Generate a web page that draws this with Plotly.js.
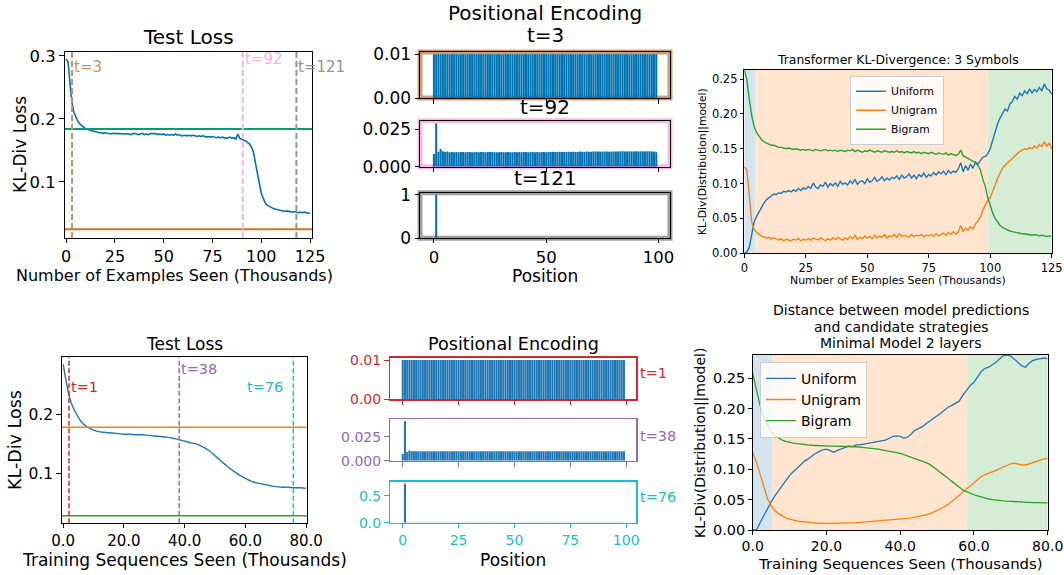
<!DOCTYPE html>
<html>
<head>
<meta charset="utf-8">
<script src="https://cdn.plot.ly/plotly-3.0.1.min.js"></script>
<style>html,body{margin:0;padding:0;background:#fff;}#chart{width:1064px;height:575px;}</style>
</head>
<body>
<div id="chart"></div>
<script>
// ---------------- DATA ----------------
// Panel A: test loss (examples seen, thousands)
const lossA_x = [0,1,2,3,4,5,6,7,8,9,10,11,12,13,14,15,16,17,18,19,20,21,22,23,24,25,26,27,28,29,30,31,32,33,34,35,36,37,38,39,40,41,42,43,44,45,46,47,48,49,50,51,52,53,54,55,56,57,58,59,60,61,62,63,64,65,66,67,68,69,70,71,72,73,74,75,76,77,78,79,80,81,82,83,84,85,86,87,88,89,90,91,92,93,94,95,96,97,98,99,100,101,102,103,104,105,106,107,108,109,110,111,112,113,114,115,116,117,118,119,120,121,122,123,124,125];
const lossA = [0.295,0.290,0.255,0.225,0.210,0.202,0.196,0.192,0.189,0.186,0.184,0.183,0.182,0.181,0.180,0.179,0.179,0.178,0.178,0.177,0.178,0.177,0.177,0.176,0.177,0.177,0.176,0.177,0.176,0.177,0.176,0.177,0.176,0.175,0.176,0.177,0.176,0.175,0.176,0.177,0.175,0.176,0.175,0.176,0.177,0.176,0.177,0.175,0.176,0.175,0.176,0.174,0.175,0.174,0.175,0.174,0.176,0.174,0.175,0.173,0.174,0.174,0.173,0.174,0.173,0.174,0.173,0.172,0.173,0.172,0.173,0.172,0.171,0.172,0.171,0.172,0.171,0.170,0.171,0.170,0.171,0.170,0.169,0.170,0.171,0.169,0.170,0.168,0.176,0.169,0.167,0.166,0.165,0.163,0.160,0.155,0.147,0.130,0.112,0.094,0.082,0.074,0.067,0.063,0.061,0.059,0.058,0.057,0.056,0.055,0.055,0.054,0.053,0.054,0.053,0.052,0.052,0.053,0.052,0.051,0.052,0.051,0.052,0.051,0.050,0.050];
const baselineA = [0.184, 0.025];           // green, orange reference lines
const snapA_t = [3, 90.5, 118];             // positions of snapshot lines
const snapA_lbl = ['t=3', 't=92', 't=121'];

// Panel B: positional encoding snapshots (positions 0..99)
const encA_t3 = [
0.010,0.010,0.010,0.010,0.010,0.010,0.010,0.010,0.010,0.010,
0.010,0.010,0.010,0.010,0.010,0.010,0.010,0.010,0.010,0.010,
0.010,0.010,0.010,0.010,0.010,0.010,0.010,0.010,0.010,0.010,
0.010,0.010,0.010,0.010,0.010,0.010,0.010,0.010,0.010,0.010,
0.010,0.010,0.010,0.010,0.010,0.010,0.010,0.010,0.010,0.010,
0.010,0.010,0.010,0.010,0.010,0.010,0.010,0.010,0.010,0.010,
0.010,0.010,0.010,0.010,0.010,0.010,0.010,0.010,0.010,0.010,
0.010,0.010,0.010,0.010,0.010,0.010,0.010,0.010,0.010,0.010,
0.010,0.010,0.010,0.010,0.010,0.010,0.010,0.010,0.010,0.010,
0.010,0.010,0.010,0.010,0.010,0.010,0.010,0.010,0.010,0.010];
const encA_t92 = [
0.0085,0.0290,0.0100,0.0118,0.0103,0.0098,0.0101,0.0097,0.0099,0.0096,
0.0098,0.0097,0.0099,0.0098,0.0097,0.0098,0.0099,0.0096,0.0097,0.0098,
0.0097,0.0098,0.0099,0.0097,0.0098,0.0099,0.0098,0.0097,0.0096,0.0097,
0.0098,0.0097,0.0097,0.0098,0.0097,0.0097,0.0098,0.0097,0.0098,0.0097,
0.0098,0.0098,0.0097,0.0098,0.0099,0.0097,0.0098,0.0097,0.0099,0.0098,
0.0097,0.0099,0.0098,0.0100,0.0099,0.0098,0.0100,0.0099,0.0098,0.0099,
0.0100,0.0099,0.0100,0.0098,0.0099,0.0101,0.0100,0.0099,0.0101,0.0100,
0.0100,0.0102,0.0101,0.0102,0.0101,0.0100,0.0102,0.0101,0.0100,0.0101,
0.0102,0.0101,0.0102,0.0103,0.0104,0.0102,0.0101,0.0103,0.0102,0.0101,
0.0103,0.0102,0.0104,0.0103,0.0102,0.0103,0.0104,0.0102,0.0101,0.0097];
const encA_t121 = [
0,1.0,0,0,0,0,0,0,0,0,
0,0,0,0,0,0,0,0,0,0,
0,0,0,0,0,0,0,0,0,0,
0,0,0,0,0,0,0,0,0,0,
0,0,0,0,0,0,0,0,0,0,
0,0,0,0,0,0,0,0,0,0,
0,0,0,0,0,0,0,0,0,0,
0,0,0,0,0,0,0,0,0,0,
0,0,0,0,0,0,0,0,0,0,
0,0,0,0,0,0,0,0,0,0];

// Panel C: KL divergence, 3 symbols (examples seen, thousands)
const klA_x = lossA_x;
const klA_uniform = [0.000,0.002,0.008,0.025,0.045,0.053,0.060,0.066,0.072,0.077,0.080,0.082,0.085,0.084,0.087,0.086,0.089,0.088,0.090,0.088,0.091,0.089,0.093,0.090,0.094,0.092,0.096,0.093,0.101,0.095,0.093,0.098,0.096,0.102,0.095,0.100,0.097,0.101,0.096,0.103,0.099,0.101,0.098,0.104,0.100,0.106,0.099,0.103,0.104,0.100,0.107,0.102,0.104,0.109,0.103,0.106,0.110,0.104,0.108,0.105,0.109,0.107,0.111,0.106,0.112,0.108,0.110,0.114,0.108,0.112,0.107,0.113,0.110,0.115,0.109,0.113,0.111,0.116,0.112,0.117,0.114,0.118,0.113,0.119,0.115,0.118,0.116,0.121,0.130,0.117,0.126,0.119,0.128,0.122,0.131,0.128,0.134,0.138,0.139,0.143,0.150,0.163,0.176,0.186,0.194,0.201,0.207,0.204,0.214,0.218,0.225,0.221,0.230,0.226,0.233,0.229,0.236,0.230,0.235,0.232,0.238,0.233,0.243,0.236,0.234,0.228];
const klA_unigram = [0.124,0.120,0.085,0.045,0.034,0.030,0.027,0.025,0.024,0.022,0.023,0.021,0.022,0.020,0.019,0.021,0.018,0.020,0.019,0.018,0.020,0.019,0.021,0.018,0.020,0.019,0.021,0.019,0.022,0.020,0.019,0.022,0.020,0.018,0.021,0.019,0.022,0.020,0.023,0.021,0.019,0.022,0.020,0.024,0.021,0.026,0.020,0.023,0.021,0.025,0.022,0.024,0.021,0.026,0.022,0.025,0.023,0.027,0.022,0.025,0.024,0.027,0.023,0.028,0.024,0.026,0.025,0.023,0.027,0.024,0.026,0.025,0.027,0.024,0.026,0.025,0.027,0.024,0.028,0.025,0.027,0.029,0.026,0.030,0.027,0.031,0.028,0.030,0.040,0.031,0.036,0.033,0.038,0.035,0.042,0.048,0.052,0.062,0.070,0.076,0.080,0.088,0.098,0.108,0.115,0.122,0.126,0.130,0.133,0.136,0.140,0.143,0.146,0.148,0.150,0.149,0.152,0.150,0.154,0.151,0.156,0.153,0.160,0.154,0.158,0.150];
const klA_bigram = [0.263,0.250,0.222,0.198,0.182,0.173,0.168,0.163,0.160,0.158,0.156,0.155,0.155,0.153,0.152,0.152,0.151,0.150,0.151,0.150,0.149,0.150,0.149,0.148,0.149,0.148,0.149,0.148,0.147,0.149,0.148,0.147,0.148,0.149,0.147,0.148,0.147,0.148,0.146,0.148,0.147,0.146,0.148,0.147,0.149,0.146,0.148,0.147,0.145,0.147,0.146,0.148,0.146,0.145,0.147,0.146,0.145,0.147,0.146,0.145,0.146,0.145,0.147,0.145,0.146,0.144,0.146,0.145,0.144,0.146,0.144,0.145,0.143,0.145,0.144,0.143,0.145,0.143,0.142,0.144,0.143,0.142,0.144,0.141,0.143,0.141,0.140,0.142,0.148,0.140,0.138,0.136,0.135,0.132,0.130,0.126,0.120,0.106,0.096,0.080,0.068,0.058,0.050,0.044,0.040,0.037,0.035,0.033,0.032,0.031,0.030,0.029,0.029,0.028,0.028,0.027,0.027,0.026,0.027,0.026,0.025,0.026,0.025,0.024,0.025,0.024];
const phaseA = [0, 4.3, 99.2, 125];   // uniform | unigram | bigram phase boundaries

// Panel D: test loss, minimal model (training sequences, thousands)
const lossB_x = [0,1,2,3,4,5,6,8,10,12,14,16,18,20,22,24,26,28,30,32,34,36,38,40,42,44,46,48,50,52,54,56,58,60,62,64,66,68,70,72,74,76,78,80];
const lossB = [0.287,0.257,0.232,0.216,0.205,0.196,0.188,0.179,0.174,0.171,0.170,0.169,0.168,0.167,0.167,0.166,0.166,0.165,0.164,0.163,0.162,0.160,0.158,0.155,0.152,0.150,0.145,0.139,0.130,0.121,0.112,0.104,0.097,0.091,0.086,0.083,0.081,0.079,0.077,0.076,0.076,0.075,0.075,0.074];
const baselineB = [0.179, 0.027];   // orange, green reference lines
const snapB_t = [1.9, 38.2, 75.8];
const snapB_lbl = ['t=1', 't=38', 't=76'];

// Panel E: positional encoding snapshots, minimal model
const encB_t1 = encA_t3.slice();
const encB_t38 = [
0.0070,0.0410,0.0090,0.0105,0.0098,0.0098,0.0098,0.0098,0.0098,0.0098,
0.0098,0.0098,0.0098,0.0098,0.0098,0.0098,0.0098,0.0098,0.0098,0.0098,
0.0098,0.0098,0.0098,0.0098,0.0098,0.0098,0.0098,0.0098,0.0098,0.0098,
0.0098,0.0098,0.0098,0.0098,0.0098,0.0098,0.0098,0.0098,0.0098,0.0098,
0.0098,0.0098,0.0098,0.0098,0.0098,0.0098,0.0098,0.0098,0.0098,0.0098,
0.0098,0.0098,0.0098,0.0098,0.0098,0.0098,0.0098,0.0098,0.0098,0.0098,
0.0098,0.0098,0.0098,0.0098,0.0098,0.0098,0.0098,0.0098,0.0098,0.0098,
0.0098,0.0098,0.0098,0.0098,0.0098,0.0098,0.0098,0.0098,0.0098,0.0098,
0.0098,0.0098,0.0098,0.0098,0.0098,0.0098,0.0098,0.0098,0.0098,0.0098,
0.0098,0.0098,0.0098,0.0098,0.0098,0.0098,0.0098,0.0098,0.0098,0.0098];
const encB_t76 = [
0.0028,0.7250,0.0028,0.0028,0.0028,0.0028,0.0028,0.0028,0.0028,0.0028,
0.0028,0.0028,0.0028,0.0028,0.0028,0.0028,0.0028,0.0028,0.0028,0.0028,
0.0028,0.0028,0.0028,0.0028,0.0028,0.0028,0.0028,0.0028,0.0028,0.0028,
0.0028,0.0028,0.0028,0.0028,0.0028,0.0028,0.0028,0.0028,0.0028,0.0028,
0.0028,0.0028,0.0028,0.0028,0.0028,0.0028,0.0028,0.0028,0.0028,0.0028,
0.0028,0.0028,0.0028,0.0028,0.0028,0.0028,0.0028,0.0028,0.0028,0.0028,
0.0028,0.0028,0.0028,0.0028,0.0028,0.0028,0.0028,0.0028,0.0028,0.0028,
0.0028,0.0028,0.0028,0.0028,0.0028,0.0028,0.0028,0.0028,0.0028,0.0028,
0.0028,0.0028,0.0028,0.0028,0.0028,0.0028,0.0028,0.0028,0.0028,0.0028,
0.0028,0.0028,0.0028,0.0028,0.0028,0.0028,0.0028,0.0028,0.0028,0.0028];

// Panel F: distance to candidate strategies, minimal model 2 layers
const klB_x = [0,1,2,3,4,5,6,7,8,9,10,11,12,13,14,15,16,17,18,19,20,21,22,23,24,25,26,27,28,29,30,31,32,33,34,35,36,37,38,39,40,41,42,43,44,45,46,47,48,49,50,51,52,53,54,55,56,57,58,59,60,61,62,63,64,65,66,67,68,69,70,71,72,73,74,75,76,77,78,79,80];
const klB_uniform = [0.000,0.000,0.012,0.024,0.035,0.046,0.056,0.065,0.074,0.082,0.090,0.096,0.102,0.108,0.113,0.117,0.122,0.126,0.129,0.132,0.133,0.130,0.128,0.131,0.133,0.136,0.138,0.137,0.140,0.140,0.141,0.142,0.143,0.144,0.146,0.147,0.148,0.151,0.154,0.155,0.154,0.151,0.153,0.158,0.164,0.167,0.170,0.175,0.179,0.183,0.188,0.192,0.197,0.202,0.205,0.208,0.212,0.222,0.231,0.238,0.243,0.252,0.261,0.266,0.268,0.272,0.276,0.282,0.287,0.288,0.286,0.281,0.275,0.270,0.268,0.275,0.279,0.281,0.282,0.283,0.282];
const klB_unigram = [0.128,0.112,0.092,0.072,0.052,0.040,0.032,0.027,0.023,0.020,0.018,0.016,0.015,0.014,0.013,0.012,0.012,0.0115,0.011,0.011,0.011,0.011,0.011,0.011,0.0115,0.0115,0.012,0.012,0.012,0.0125,0.013,0.013,0.0135,0.014,0.0145,0.015,0.015,0.0155,0.016,0.0165,0.017,0.018,0.019,0.020,0.021,0.022,0.0235,0.025,0.027,0.029,0.032,0.035,0.038,0.042,0.047,0.052,0.057,0.062,0.068,0.073,0.078,0.083,0.088,0.091,0.093,0.095,0.098,0.101,0.104,0.107,0.109,0.110,0.108,0.107,0.107,0.109,0.111,0.114,0.116,0.117,0.118];
const klB_bigram = [0.258,0.232,0.205,0.186,0.172,0.161,0.155,0.151,0.148,0.146,0.144,0.143,0.142,0.141,0.1405,0.140,0.1395,0.139,0.139,0.1385,0.138,0.138,0.138,0.138,0.138,0.138,0.1375,0.137,0.137,0.1365,0.136,0.1355,0.135,0.134,0.133,0.132,0.131,0.130,0.129,0.128,0.126,0.124,0.122,0.120,0.117,0.115,0.113,0.111,0.108,0.104,0.099,0.094,0.090,0.085,0.080,0.075,0.070,0.066,0.063,0.060,0.058,0.056,0.054,0.052,0.051,0.050,0.049,0.0485,0.048,0.0475,0.047,0.0467,0.0464,0.046,0.0458,0.0455,0.0452,0.045,0.0448,0.0446,0.0445];
const phaseB = [0, 5.15, 58.2, 80];

// tick labels
const ticksA_x = [0,25,50,75,100,125];
const ticksA_y = [0.1,0.2,0.3];
const ticksKL_y = [0,0.05,0.10,0.15,0.20,0.25];
const ticksKL_ylbl = ['0.00','0.05','0.10','0.15','0.20','0.25'];
const ticksB_x = [0,20,40,60,80];
const ticksB_xlbl = ['0.0','20.0','40.0','60.0','80.0'];
const ticksB_y = [0.1,0.2];
const seriesNames = ['Uniform','Unigram','Bigram'];

// ---------------- LAYOUT HELPERS ----------------
const W = 1064, H = 575;
const F = 'DejaVu Sans, Verdana, sans-serif';
const xd = (a,b) => [a/W, b/W];
const yd = (t,b) => [1-b/H, 1-t/H];
const positions = encA_t3.map((_,i)=>i);

function ax(o, size, color){
  color = color || '#000';
  return Object.assign({
    showline:true, mirror:true, linecolor:color, linewidth:1,
    ticks:'outside', ticklen:4.5, tickwidth:1, tickcolor:color,
    showgrid:false, zeroline:false, fixedrange:true, automargin:false,
    ticklabeloverflow:'allow',
    tickfont:{family:F, size:size, color:color}
  }, o);
}
const ann = [];
function A(text, x, y, size, o){
  ann.push(Object.assign({text:text, x:x/W, y:1-y/H, xref:'paper', yref:'paper',
    showarrow:false, xanchor:'center', yanchor:'middle',
    font:{family:F, size:size, color:'#000'}}, o||{}));
}

const tab = {blue:'#1f77b4', orange:'#ff7f0e', green:'#2ca02c', red:'#d62728', purple:'#9467bd', cyan:'#17becf'};
const cb = {blue:'#0173b2', orange:'#d5701a', green:'#029e73', brown:'#ca9161', pink:'#fbafe4', gray:'#949494'};

const traces = [];
const shapes = [];

// ---- Panel A ----
traces.push({x:lossA_x, y:lossA, type:'scatter', mode:'lines', line:{color:cb.blue, width:1.6}, xaxis:'x', yaxis:'y', showlegend:false});
const baseColA = [cb.green, cb.orange];
baselineA.forEach((v,i)=>shapes.push({type:'line', xref:'x domain', yref:'y', x0:0, x1:1, y0:v, y1:v, line:{color:baseColA[i], width:2}}));
const snapColA = [cb.brown, cb.pink, cb.gray];
const snapYA = [66.7, 59.3, 66.7];
snapA_t.forEach((t,i)=>{
  shapes.push({type:'line', xref:'x', yref:'y domain', x0:t, x1:t, y0:0, y1:1, line:{color:snapColA[i], width:2, dash:'6px,3px'}});
  ann.push({text:snapA_lbl[i], x:t, xref:'x', y:1-snapYA[i]/H, yref:'paper', xanchor:'left', yanchor:'middle', xshift:0, showarrow:false, font:{family:F, size:15, color:snapColA[i]}});
});
A('Test Loss', 188, 37, 20);
A('KL-Div Loss', 20, 145, 17, {textangle:-90});
A('Number of Examples Seen (Thousands)', 174, 275, 16);

// ---- Panel B ----
const encA = [encA_t3, encA_t92, encA_t121];
const frameA = [[52,98],[120.7,166.7],[192.7,238.3]];
const frameColA = ['rgba(202,145,97,0.9)','rgba(251,175,228,0.9)','rgba(148,148,148,0.9)'];
encA.forEach((v,i)=>{
  traces.push({x:positions, y:v, type:'bar', marker:{color:cb.blue, line:{width:0}}, xaxis:'x'+(i+2), yaxis:'y'+(i+2), showlegend:false});
  shapes.push({type:'rect', xref:'paper', yref:'paper', x0:420/W, x1:670/W, y0:1-frameA[i][1]/H, y1:1-frameA[i][0]/H, line:{color:frameColA[i], width:5}, layer:'below'});
});
A('Positional Encoding', 545, 13, 20);
A('t=3', 545, 35, 20);
A('t=92', 545, 107, 20);
A('t=121', 545, 178, 20);
A('Position', 545, 276, 17);

// ---- Panel C ----
const klA = [klA_uniform, klA_unigram, klA_bigram];
const klCol = [tab.blue, tab.orange, tab.green];
const phaseFill = ['rgba(31,119,180,0.2)','rgba(255,127,14,0.2)','rgba(44,160,44,0.2)'];
for (let i=0;i<3;i++){
  shapes.push({type:'rect', xref:'x5', yref:'y5 domain', x0:phaseA[i], x1:phaseA[i+1], y0:0, y1:1, fillcolor:phaseFill[i], line:{width:0}, layer:'below'});
  traces.push({x:klA_x, y:klA[i], name:seriesNames[i], type:'scatter', mode:'lines', line:{color:klCol[i], width:1.4}, xaxis:'x5', yaxis:'y5', legend:'legend'});
}
A('Transformer KL-Divergence: 3 Symbols', 898, 60, 12.4);
A('KL-Div(Distribution||model)', 702, 162, 10.8, {textangle:-90});
A('Number of Examples Seen (Thousands)', 898, 281, 10.9);

// ---- Panel D ----
traces.push({x:lossB_x, y:lossB, type:'scatter', mode:'lines', line:{color:tab.blue, width:1.4, shape:'spline'}, xaxis:'x6', yaxis:'y6', showlegend:false});
const baseColB = [tab.orange, tab.green];
baselineB.forEach((v,i)=>shapes.push({type:'line', xref:'x6 domain', yref:'y6', x0:0, x1:1, y0:v, y1:v, line:{color:baseColB[i], width:1.5}}));
const snapColB = [tab.red, tab.purple, tab.cyan];
const snapYB = [387, 369, 387];
const snapAnchorB = ['left','left','right'];
const snapShiftB = [0, 0, -8];
snapB_t.forEach((t,i)=>{
  shapes.push({type:'line', xref:'x6', yref:'y6 domain', x0:t, x1:t, y0:0, y1:1, line:{color:snapColB[i], width:1.5, dash:'5px,2.5px'}});
  ann.push({text:snapB_lbl[i], x:t, xref:'x6', y:1-snapYB[i]/H, yref:'paper', xanchor:snapAnchorB[i], xshift:snapShiftB[i], yanchor:'middle', showarrow:false, font:{family:F, size:14.5, color:snapColB[i]}});
});
A('Test Loss', 184, 344, 17);
A('KL-Div Loss', 15, 440, 17.5, {textangle:-90});
A('Training Sequences Seen (Thousands)', 184, 560, 17);

// ---- Panel E ----
const encB = [encB_t1, encB_t38, encB_t76];
encB.forEach((v,i)=>{
  traces.push({x:positions, y:v, type:'bar', marker:{color:tab.blue, line:{width:0}}, xaxis:'x'+(i+7), yaxis:'y'+(i+7), showlegend:false});
});
A('Positional Encoding', 513, 344, 17.6);
A('t=1', 638, 373, 14.5, {xanchor:'left', font:{family:F, size:14.5, color:tab.red}});
A('t=38', 638, 436, 14.5, {xanchor:'left', font:{family:F, size:14.5, color:tab.purple}});
A('t=76', 638, 497, 14.5, {xanchor:'left', font:{family:F, size:14.5, color:tab.cyan}});
A('Position', 513, 560, 17);

// ---- Panel F ----
const klB = [klB_uniform, klB_unigram, klB_bigram];
for (let i=0;i<3;i++){
  shapes.push({type:'rect', xref:'x10', yref:'y10 domain', x0:phaseB[i], x1:phaseB[i+1], y0:0, y1:1, fillcolor:phaseFill[i], line:{width:0}, layer:'below'});
  traces.push({x:klB_x, y:klB[i], name:seriesNames[i], type:'scatter', mode:'lines', line:{color:klCol[i], width:1.3}, xaxis:'x10', yaxis:'y10', legend:'legend2'});
}
A('Distance between model predictions', 901, 310, 14);
A('and candidate strategies', 901, 326.7, 14);
A('Minimal Model 2 layers', 901, 343.3, 14);
A('KL-Div(Distribution||model)', 700, 443, 14, {textangle:-90});
A('Training Sequences Seen (Thousands)', 900, 564, 14.9);

// ---------------- LAYOUT ----------------
const layout = {
  width:W, height:H, margin:{l:0,r:0,t:0,b:0,pad:0},
  paper_bgcolor:'#ffffff', plot_bgcolor:'rgba(0,0,0,0)',
  font:{family:F, color:'#000'},
  bargap:0.08,
  showlegend:true,
  xaxis: ax({domain:xd(65,312), anchor:'y', range:[-0.6,126], tickvals:ticksA_x, ticklen:4}, 16),
  yaxis: ax({domain:yd(52,238), anchor:'x', range:[0.011,0.306], tickvals:ticksA_y, ticktext:['0.1','0.2','0.3'], ticklen:5}, 16.5),
  xaxis2: ax({domain:xd(420,670), anchor:'y2', range:[-6.2,105.1], tickvals:[0,50,100], showticklabels:false}, 17),
  yaxis2: ax({domain:yd(52,98), anchor:'x2', range:[0,0.0105], tickvals:[0,0.01], ticktext:['0.00','0.01']}, 17),
  xaxis3: ax({domain:xd(420,670), anchor:'y3', range:[-6.2,105.1], tickvals:[0,50,100], showticklabels:false}, 17),
  yaxis3: ax({domain:yd(120.7,166.7), anchor:'x3', range:[0,0.0308], tickvals:[0,0.025], ticktext:['0.000','0.025']}, 17),
  xaxis4: ax({domain:xd(420,670), anchor:'y4', range:[-6.2,105.1], tickvals:[0,50,100], ticklen:4}, 16.5),
  yaxis4: ax({domain:yd(192.7,238.3), anchor:'x4', range:[0,1.05], tickvals:[0,1]}, 17),
  xaxis5: ax({domain:xd(744.3,1051.7), anchor:'y5', range:[0,125], tickvals:ticksA_x, ticklen:3.5}, 11.5),
  yaxis5: ax({domain:yd(70,253.3), anchor:'x5', range:[0,0.263], tickvals:ticksKL_y, ticktext:ticksKL_ylbl, ticklen:3.5}, 11.5),
  xaxis6: ax({domain:xd(61.7,306.7), anchor:'y6', range:[-0.5,80.2], tickvals:ticksB_x, ticktext:ticksB_xlbl, ticklen:4}, 15),
  yaxis6: ax({domain:yd(357.3,523.3), anchor:'x6', range:[0.014,0.299], tickvals:ticksB_y, ticktext:['0.1','0.2']}, 15.5),
  xaxis7: ax({domain:xd(390,636), anchor:'y7', range:[-5.7,104.4], tickvals:[0,25,50,75,100], showticklabels:false, linewidth:1.5}, 14, tab.red),
  yaxis7: ax({domain:yd(357.7,399), anchor:'x7', range:[0,0.0106], tickvals:[0,0.01], ticktext:['0.00','0.01'], linewidth:1.5}, 14, tab.red),
  xaxis8: ax({domain:xd(390,636), anchor:'y8', range:[-5.7,104.4], tickvals:[0,25,50,75,100], showticklabels:false, linewidth:1.5}, 14, tab.purple),
  yaxis8: ax({domain:yd(419.3,460.7), anchor:'x8', range:[0,0.043], tickvals:[0,0.025], ticktext:['0.000','0.025'], linewidth:1.5}, 14, tab.purple),
  xaxis9: ax({domain:xd(390,636), anchor:'y9', range:[-5.7,104.4], tickvals:[0,25,50,75,100], linewidth:1.5, ticklen:4}, 14, tab.cyan),
  yaxis9: ax({domain:yd(481.7,522.7), anchor:'x9', range:[0,0.76], tickvals:[0,0.5], ticktext:['0.0','0.5'], linewidth:1.5}, 14, tab.cyan),
  xaxis10: ax({domain:xd(752.7,1047.7), anchor:'y10', range:[0,80], tickvals:ticksB_x, ticktext:ticksB_xlbl, ticklen:3.5}, 14),
  yaxis10: ax({domain:yd(355,530), anchor:'x10', range:[0,0.288], tickvals:ticksKL_y, ticktext:ticksKL_ylbl, ticklen:3.5}, 14.5),
  legend: {x:897/W, xanchor:'center', y:1-75.7/H, yanchor:'top', font:{family:F, size:10.8, color:'#000'},
           bgcolor:'rgba(255,255,255,0.8)', bordercolor:'#cccccc', borderwidth:1, tracegroupgap:0},
  legend2: {x:760/W, xanchor:'left', y:1-361.7/H, yanchor:'top', font:{family:F, size:14, color:'#000'},
           bgcolor:'rgba(255,255,255,0.8)', bordercolor:'#cccccc', borderwidth:1, tracegroupgap:0},
  shapes: shapes,
  annotations: ann
};

Plotly.newPlot('chart', traces, layout, {displayModeBar:false, staticPlot:true});
</script>
</body>
</html>
